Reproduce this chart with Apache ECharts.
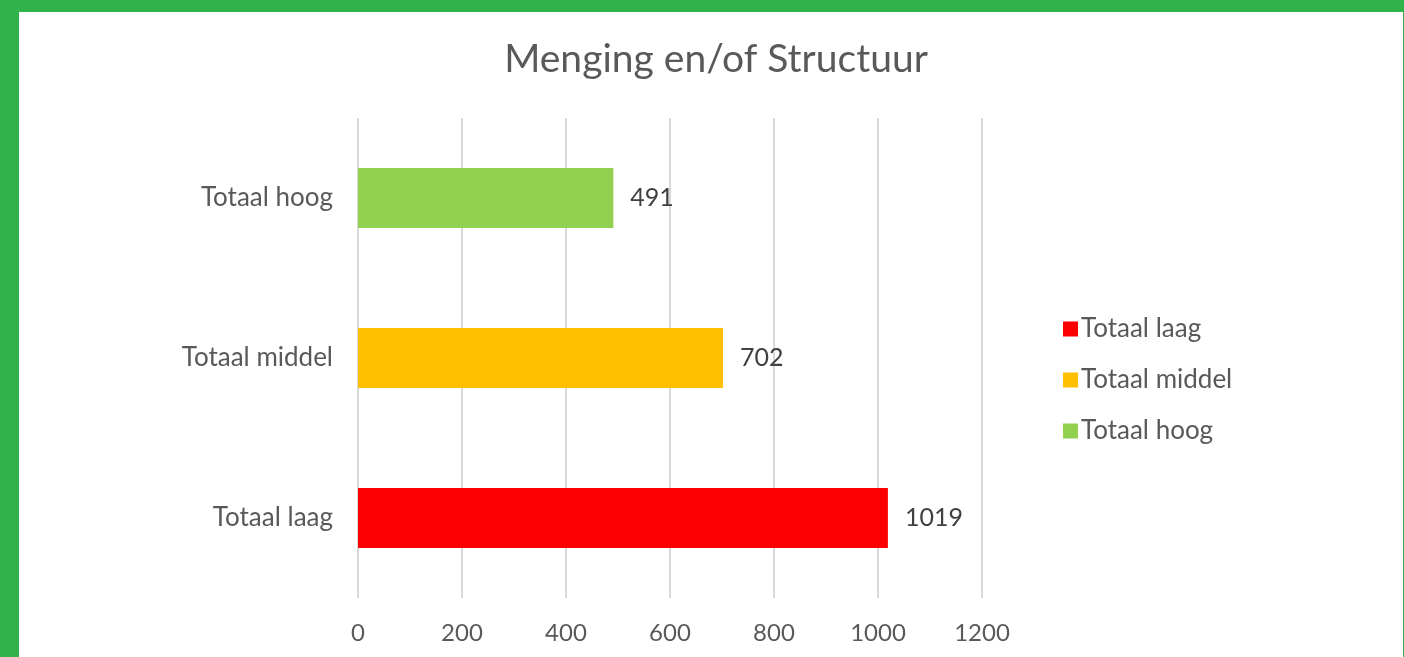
<!DOCTYPE html>
<html>
<head>
<meta charset="utf-8">
<script src="https://cdn.jsdelivr.net/npm/echarts@6/dist/echarts.min.js"></script>
<style>
  html, body { margin: 0; padding: 0; background: #32b24b; }
  #chart { width: 1404px; height: 657px; }
</style>
</head>
<body>
<div id="chart"></div>
<script>
// Categories on the vertical axis, bottom to top
const categories = ['Totaal laag', 'Totaal middel', 'Totaal hoog'];
// One series per level
const seriesNames = ['Totaal laag', 'Totaal middel', 'Totaal hoog'];
const seriesValues = [1019, 702, 491];
const seriesColors = ['#fa0000', '#ffc000', '#92d050'];
// Horizontal axis ticks
const xTicks = [0, 200, 400, 600, 800, 1000, 1200];

const FONT = 'Lato, "Open Sans", sans-serif';
const chart = echarts.init(document.getElementById('chart'));

const series = seriesNames.map((name, i) => ({
  name: name,
  type: 'bar',
  stack: 'all',
  barWidth: 60,
  itemStyle: { color: seriesColors[i] },
  label: {
    show: true,
    position: 'right',
    distance: 17,
    color: '#404040',
    fontFamily: FONT,
    fontSize: 25,
    formatter: p => (p.value == null ? '' : String(p.value))
  },
  data: categories.map((c, j) => (j === i ? seriesValues[i] : null))
}));

chart.setOption({
  backgroundColor: '#32b24b',
  animation: false,
  graphic: [{
    type: 'rect',
    z: -10,
    shape: { x: 19, y: 12, width: 1384, height: 660 },
    style: { fill: '#ffffff' }
  }],
  title: {
    text: 'Menging en/of Structuur',
    left: 711,
    textAlign: 'center',
    top: 35,
    textStyle: { color: '#595959', fontFamily: FONT, fontSize: 39, fontWeight: 'normal' }
  },
  legend: {
    orient: 'vertical',
    left: 1058,
    top: 311,
    itemWidth: 15,
    itemHeight: 15,
    itemGap: 25,
    icon: 'rect',
    data: seriesNames,
    textStyle: { color: '#595959', fontFamily: FONT, fontSize: 26, padding: [0, 0, 0, -2] }
  },
  grid: { left: 358, right: 422, top: 118, bottom: 59, containLabel: false },
  xAxis: {
    type: 'value',
    min: xTicks[0],
    max: xTicks[xTicks.length - 1],
    interval: xTicks[1] - xTicks[0],
    axisLine: { show: false },
    axisTick: { show: false },
    axisLabel: { color: '#595959', fontFamily: FONT, fontSize: 24, margin: 23, formatter: v => String(v) },
    splitLine: { show: true, lineStyle: { color: '#d9d9d9', width: 2 } }
  },
  yAxis: {
    type: 'category',
    data: categories,
    axisLine: { show: false },
    axisTick: { show: false },
    axisLabel: { color: '#595959', fontFamily: FONT, fontSize: 26, margin: 25 }
  },
  series: series
});
</script>
</body>
</html>
